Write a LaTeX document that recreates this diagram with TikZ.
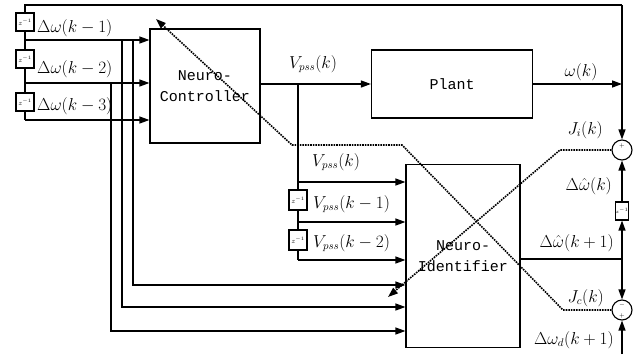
\documentclass[tikz,border=0pt]{standalone}
\usepackage{fontspec}
\setmainfont{Liberation Serif}
\setmonofont{Liberation Mono}
\usetikzlibrary{arrows.meta, positioning, calc}

\begin{document}
\begin{tikzpicture}[
  x=1pt, y=-1pt,
  blk/.style={draw, line width=1.2pt, rectangle, align=center, inner sep=0pt, font=\fontsize{15}{21}\selectfont\ttfamily},
  dly/.style={draw, line width=1.1pt, rectangle, minimum width=18pt, minimum height=18pt, inner sep=0pt, font=\fontsize{7}{7}\selectfont},
  sumnode/.style={draw, line width=1.1pt, circle, minimum size=20pt, inner sep=0pt},
  sgn/.style={inner sep=0pt, font=\fontsize{6}{6}\selectfont},
  lbl/.style={inner sep=0pt, font=\fontsize{16}{16}\selectfont},
  wire/.style={line width=1.3pt},
  arrow/.style={wire, -{Triangle[length=10pt,width=7pt]}},
  fb/.style={line width=1.6pt, densely dotted, -{Triangle[length=10pt,width=7pt]}}
]
\useasboundingbox (0,0) rectangle (640,354);

% blocks
\node[blk, minimum width=110pt, minimum height=114pt] (ctrl) at (205,86) {Neuro-\\Controller};
\node[blk, minimum width=161pt, minimum height=68pt] (plant) at (452,84) {Plant};
\node[blk, minimum width=114pt, minimum height=183pt] (ident) at (463,256) {Neuro-\\Identifier};

% delays
\node[dly] (zw1) at (25,22) {$z^{-1}$};
\node[dly] (zw2) at (25,59) {$z^{-1}$};
\node[dly] (zw3) at (25,102) {$z^{-1}$};
\node[dly, minimum height=20pt] (zv1) at (298,200) {$z^{-1}$};
\node[dly, minimum height=20pt] (zv2) at (298,240) {$z^{-1}$};
\node[dly, minimum width=12pt, font=\fontsize{5}{5}\selectfont] (zo) at (622,211) {$z^{-1}$};

% summing junctions
\node[sumnode] (sumi) at (622,150) {};
\node[sumnode] (sumc) at (622,310) {};
\node[sgn] (sgi) at (622,146) {$+$};
\node[sgn] (sgc1) at (622,305) {$-$};
\node[sgn] (sgc2) at (622,316) {$+$};

% corner points
\coordinate (tr) at (622,5);
\coordinate (tl) at (25,5);
\coordinate (w1) at (25,40);
\coordinate (w2) at (25,83);
\coordinate (w3) at (25,120);
\coordinate (r1) at (133,40);
\coordinate (r2) at (122,40);
\coordinate (r3) at (111,83);
\coordinate (s1) at (133,285);
\coordinate (s2) at (122,307);
\coordinate (s3) at (111,331);
\coordinate (vb) at (298,84);
\coordinate (v0) at (298,182);
\coordinate (v1) at (298,222);
\coordinate (v2) at (298,260);
\coordinate (po) at (622,84);
\coordinate (io) at (622,259);
\coordinate (dd) at (622,354);
\coordinate (jc1) at (563,310);
\coordinate (jc2) at (402,145);
\coordinate (jc3) at (292,145);
\coordinate (jct) at (156,19);
\coordinate (ji1) at (560,150);
\coordinate (jit) at (388,297);

% delay chain of the speed deviation
\draw[wire] (tr) -- (tl) -- (zw1.north);
\draw[wire] (zw1.south) -- (zw2.north);
\draw[wire] (zw2.south) -- (zw3.north);
\draw[wire] (zw3.south) -- (w3);
\draw[arrow] (w1) -- (w1 -| ctrl.west);
\draw[arrow] (w2) -- (w2 -| ctrl.west);
\draw[arrow] (w3) -- (w3 -| ctrl.west);
\draw[arrow] (r1) -- (s1) -- (s1 -| ident.west);
\draw[arrow] (r2) -- (s2) -- (s2 -| ident.west);
\draw[arrow] (r3) -- (s3) -- (s3 -| ident.west);

% control signal
\draw[arrow] (ctrl.east |- vb) -- (plant.west |- vb);
\draw[wire] (vb) -- (zv1.north);
\draw[wire] (zv1.south) -- (zv2.north);
\draw[wire] (zv2.south) -- (v2);
\draw[arrow] (v0) -- (v0 -| ident.west);
\draw[arrow] (v1) -- (v1 -| ident.west);
\draw[arrow] (v2) -- (v2 -| ident.west);

% outputs
\draw[arrow] (plant.east) -- (po);
\draw[arrow] (tr) -- (sumi.north);
\draw[wire] (io -| ident.east) -- (io);
\draw[arrow] (io) -- (zo.south);
\draw[arrow] (zo.north) -- (sumi.south);
\draw[arrow] (io) -- (sumc.north);
\draw[arrow] (dd) -- (sumc.south);

% error feedback
\draw[fb] (sumc.west) -- (jc1) -- (jc2) -- (jc3) -- (jct);
\draw[fb] (sumi.west) -- (ji1) -- (jit);

% labels
\node[lbl, anchor=west] (lw1) at (37,28) {$\Delta\omega(k-1)$};
\node[lbl, anchor=west] (lw2) at (37,69) {$\Delta\omega(k-2)$};
\node[lbl, anchor=west] (lw3) at (37,106) {$\Delta\omega(k-3)$};
\node[lbl, anchor=west] (lv) at (289,64) {$V_{pss}(k)$};
\node[lbl, anchor=west] (lv0) at (312,162) {$V_{pss}(k)$};
\node[lbl, anchor=west] (lv1) at (313,204) {$V_{pss}(k-1)$};
\node[lbl, anchor=west] (lv2) at (313,243) {$V_{pss}(k-2)$};
\node[lbl] (ly) at (581,72) {$\omega(k)$};
\node[lbl, anchor=east] (lji) at (603,130) {$J_i(k)$};
\node[lbl, anchor=east] (lyh) at (612,186) {$\Delta\hat{\omega}(k)$};
\node[lbl, anchor=east] (lyh1) at (614,243) {$\Delta\hat{\omega}(k+1)$};
\node[lbl, anchor=east] (ljc) at (604,298) {$J_c(k)$};
\node[lbl, anchor=east] (lyd) at (614,340) {$\Delta\omega_d(k+1)$};

\end{tikzpicture}
\end{document}
